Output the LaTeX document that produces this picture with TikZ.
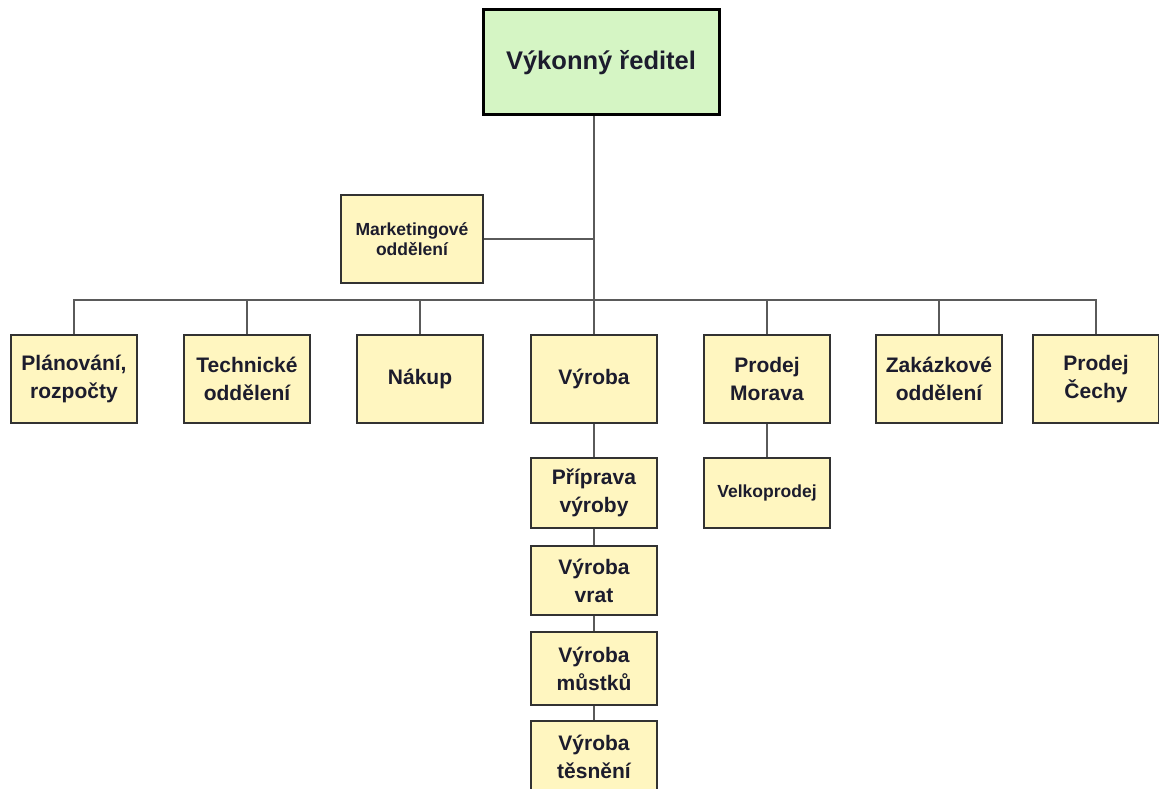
\documentclass[tikz,border=0pt]{standalone}
\usepackage{fontspec}
\setmainfont{Liberation Sans}
\definecolor{boxfill}{RGB}{255,246,192}
\definecolor{topfill}{RGB}{213,245,196}
\definecolor{boxline}{RGB}{50,50,50}
\definecolor{conn}{RGB}{90,90,90}
\definecolor{txt}{RGB}{28,28,45}
\tikzset{
  unit/.style={draw=boxline, line width=1.5pt, fill=boxfill, text=txt, align=center,
    inner sep=0pt, font=\fontsize{21}{28}\selectfont\bfseries},
  smallunit/.style={unit, font=\fontsize{17.5}{20}\selectfont\bfseries},
  topunit/.style={draw=black, line width=3pt, fill=topfill, text=txt, align=center,
    inner sep=0pt, font=\fontsize{25.5}{30}\selectfont\bfseries},
  link/.style={draw=conn, line width=2pt},
}
\begin{document}
\begin{tikzpicture}[x=1pt,y=-1pt]
\useasboundingbox[fill=white] (0,0) rectangle (1159,789);
% top
\node[topunit, minimum width=236pt, minimum height=105pt] (top) at (601,62.5) {Výkonný ředitel};
% staff
\node[smallunit, minimum width=142pt, minimum height=88pt] (mkt) at (412,239) {Marketingové\\oddělení};
% departments
\node[unit, minimum width=126pt, minimum height=88pt] (plan)   at (74,379)  {Plánování,\\rozpočty};
\node[unit, minimum width=126pt, minimum height=88pt] (tech)   at (247,379)   {Technické\\oddělení};
\node[unit, minimum width=126pt, minimum height=88pt] (nakup)  at (420,379) {Nákup};
\node[unit, minimum width=126pt, minimum height=88pt] (vyroba) at (594,379)   {Výroba};
\node[unit, minimum width=126pt, minimum height=88pt] (morava) at (767,379) {Prodej\\Morava};
\node[unit, minimum width=126pt, minimum height=88pt] (zakaz)  at (939,379)   {Zakázkové\\oddělení};
\node[unit, minimum width=126pt, minimum height=88pt] (cechy)  at (1096,379)  {Prodej\\Čechy};
% sub units
\node[smallunit, minimum width=126pt, minimum height=70pt] (velko) at (767,493) {Velkoprodej};
\node[unit, minimum width=126pt, minimum height=70pt] (prip)   at (594,493)   {Příprava\\výroby};
\node[unit, minimum width=126pt, minimum height=69pt] (vrat)   at (594,580.5) {Výroba\\vrat};
\node[unit, minimum width=126pt, minimum height=73pt] (mustku) at (594,668.5) {Výroba\\můstků};
\node[unit, minimum width=126pt, minimum height=72pt] (tesn)   at (594,757)   {Výroba\\těsnění};
% bus
\coordinate (bus) at (594,300);
% connectors
\draw[link] (top.south -| vyroba.north) -- (vyroba.north);
\draw[link] (mkt.east) -- (mkt.east -| vyroba.north);
\draw[link] (plan.north) -- (bus -| plan.north) -- (bus -| cechy.north) -- (cechy.north);
\draw[link] (bus -| tech.north) -- (tech.north);
\draw[link] (bus -| nakup.north) -- (nakup.north);
\draw[link] (bus -| morava.north) -- (morava.north);
\draw[link] (bus -| zakaz.north) -- (zakaz.north);
\draw[link] (vyroba.south) -- (prip.north);
\draw[link] (prip.south) -- (vrat.north);
\draw[link] (vrat.south) -- (mustku.north);
\draw[link] (mustku.south) -- (tesn.north);
\draw[link] (morava.south) -- (velko.north);
\end{tikzpicture}
\end{document}
